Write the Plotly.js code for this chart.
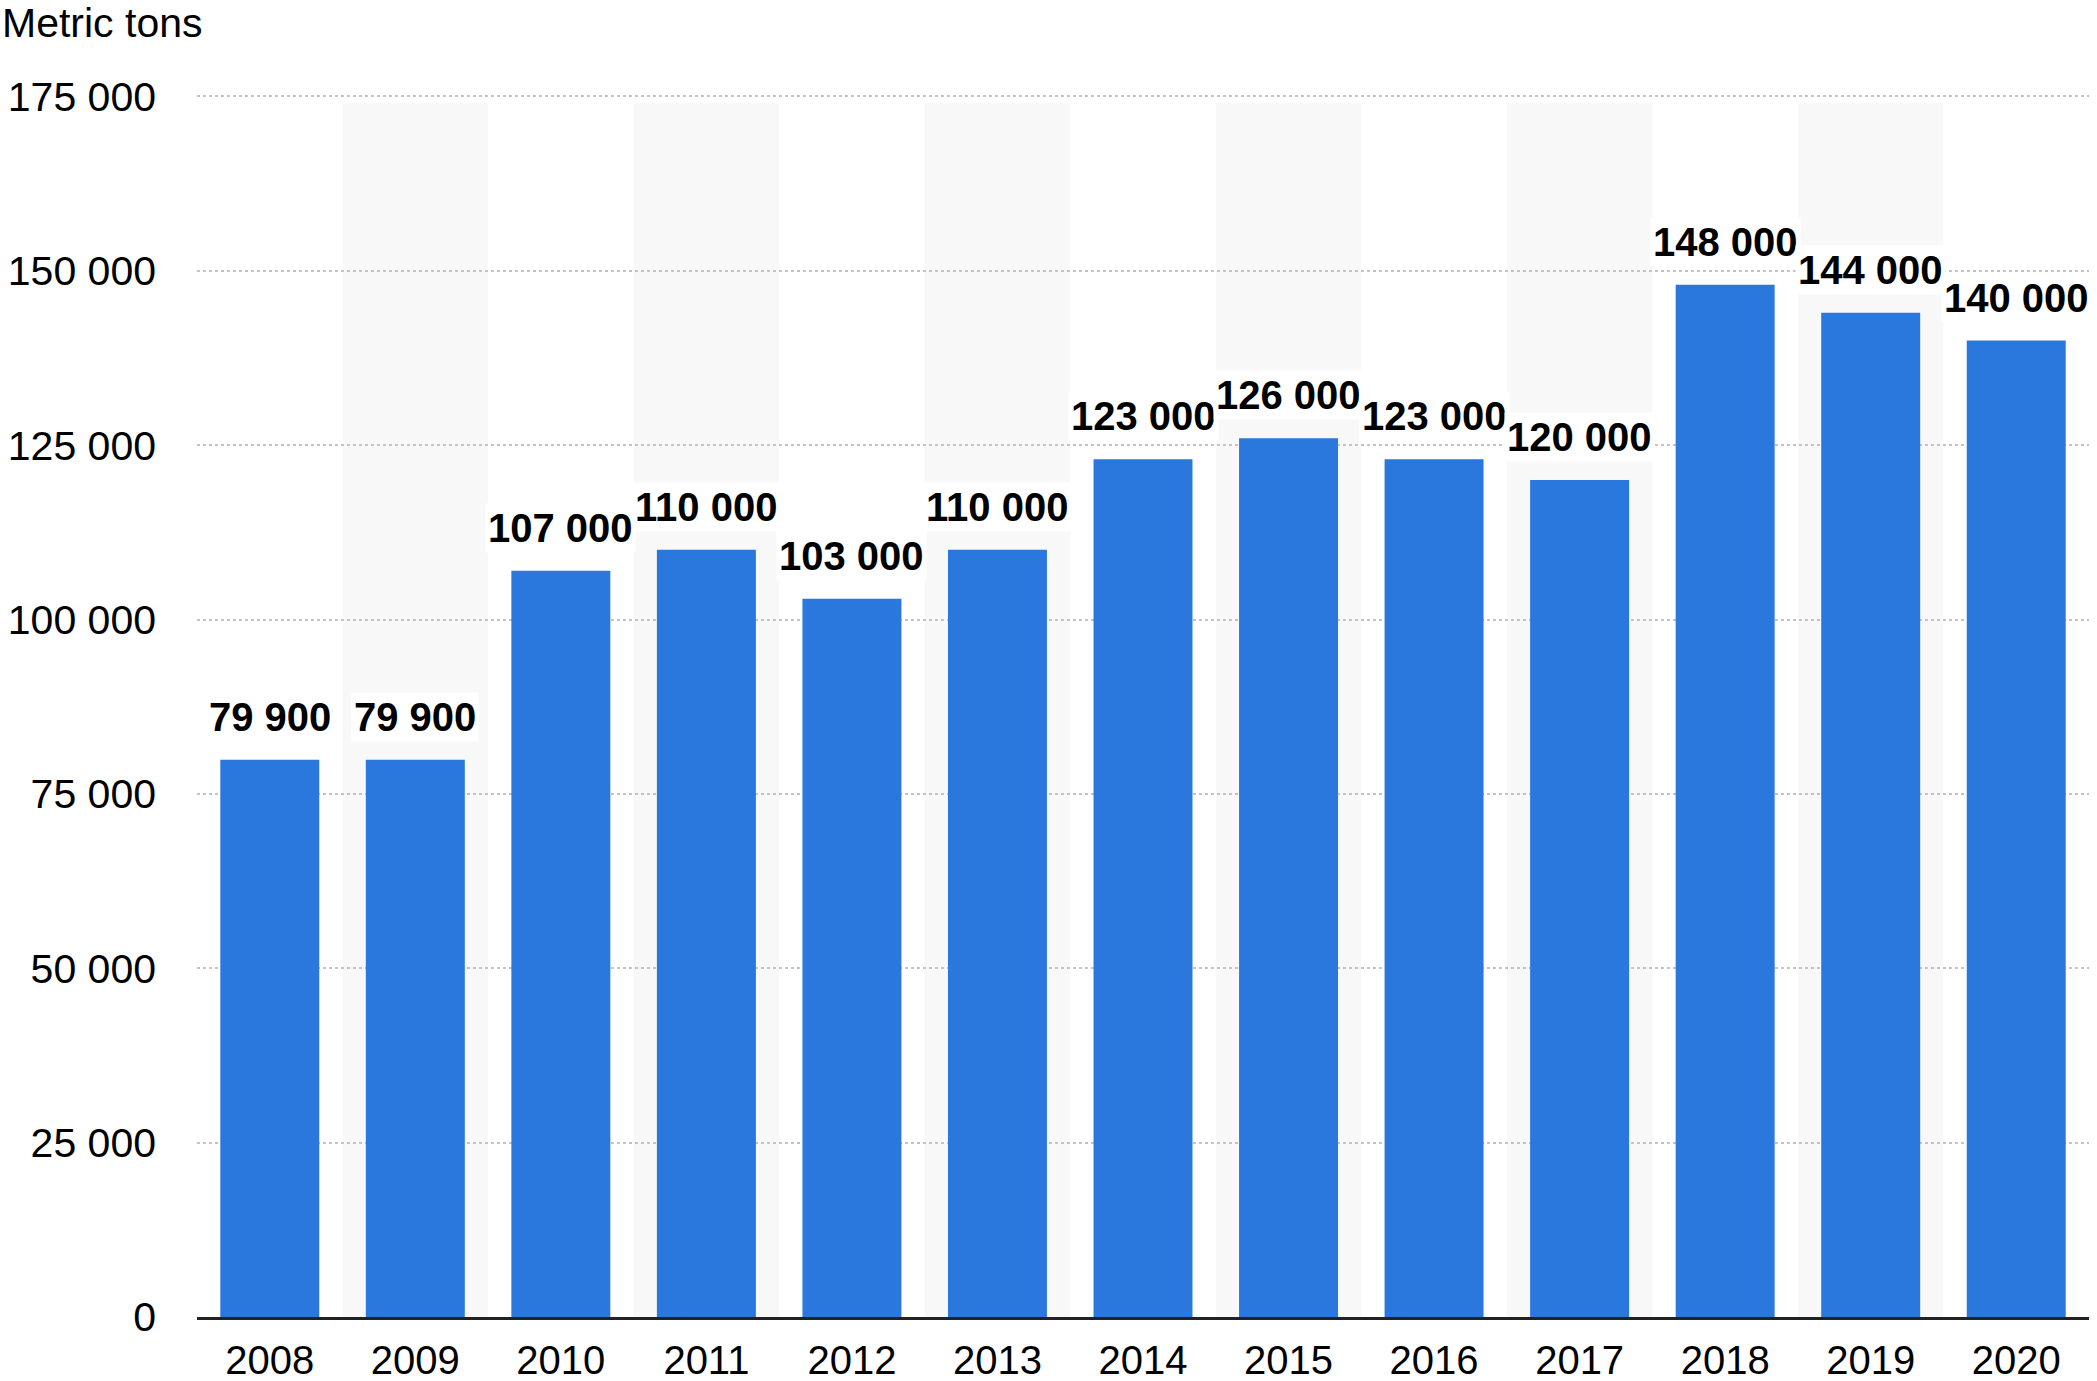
<!DOCTYPE html>
<html>
<head>
<meta charset="utf-8">
<script src="https://cdn.plot.ly/plotly-3.0.1.min.js"></script>
<style>
  html, body { margin: 0; padding: 0; background: #fff; }
  #chart { width: 2097px; height: 1381px; }
</style>
</head>
<body>
<div id="chart"></div>
<script>
var years = ['2008', '2009', '2010', '2011', '2012', '2013', '2014', '2015', '2016', '2017', '2018', '2019', '2020'];
var tons = [79900, 79900, 107000, 110000, 103000, 110000, 123000, 126000, 123000, 120000, 148000, 144000, 140000];
var yTicks = [0, 25000, 50000, 75000, 100000, 125000, 150000, 175000];
var unitLabel = 'Metric tons';

function spaced(v) {
    return String(v).replace(/\B(?=(\d{3})+(?!\d))/g, ' ');
}

var bars = {
    x: years,
    y: tons,
    type: 'bar',
    width: 0.68,
    marker: { color: '#2a77de' },
    hoverinfo: 'x+y'
};

// grey bands behind every second year (category index positions)
var shapes = [];
for (var i = 1; i < years.length; i += 2) {
    shapes.push({
        type: 'rect', xref: 'x', yref: 'y',
        x0: i - 0.5, x1: i + 0.5, y0: 0, y1: 174000,
        fillcolor: '#f8f8f8', line: { width: 0 }, layer: 'below'
    });
}

// value labels, placed by category index so the year strings are not read as numbers
var notes = [];
for (var j = 0; j < years.length; j++) {
    notes.push({
        x: j, y: tons[j], xref: 'x', yref: 'y',
        text: '<b>' + spaced(tons[j]) + '</b>',
        showarrow: false, yanchor: 'middle', yshift: 43,
        bgcolor: '#ffffff', borderpad: 2,
        font: { family: 'Liberation Sans, Arial, sans-serif', size: 40, color: '#000' }
    });
}
notes.push({
    xref: 'paper', yref: 'paper', x: 0, y: 1, xshift: -197, yshift: 70,
    xanchor: 'left', yanchor: 'middle', showarrow: false,
    text: unitLabel,
    font: { family: 'Liberation Sans, Arial, sans-serif', size: 41, color: '#000' }
});

var layout = {
    width: 2097, height: 1381,
    margin: { l: 197, r: 8, t: 93, b: 64 },
    paper_bgcolor: '#fff', plot_bgcolor: 'rgba(0,0,0,0)',
    showlegend: false,
    font: { family: 'Liberation Sans, Arial, sans-serif', size: 40, color: '#000' },
    xaxis: {
        type: 'category',
        range: [-0.5, years.length - 0.5],
        showgrid: false,
        showline: true, linecolor: '#222', linewidth: 3,
        ticks: '', ticklabelstandoff: 6,
        tickfont: { size: 40, color: '#000' }
    },
    yaxis: {
        range: [0, 175500],
        tickvals: yTicks,
        ticktext: yTicks.map(spaced),
        showgrid: true, gridcolor: '#c4c4c4', gridwidth: 2, griddash: 'dot',
        zeroline: false, showline: false,
        ticks: '', ticklabelstandoff: 40,
        tickfont: { size: 41, color: '#000' }
    },
    shapes: shapes,
    annotations: notes
};

Plotly.newPlot('chart', [bars], layout, { staticPlot: true });
</script>
</body>
</html>
